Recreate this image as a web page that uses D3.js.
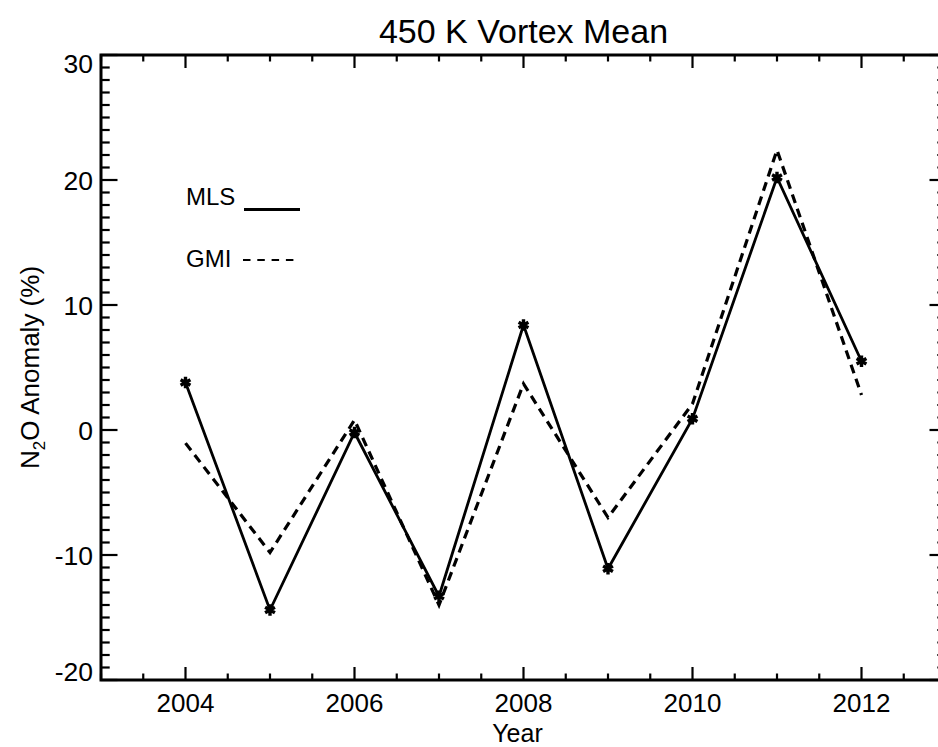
<meta charset="utf-8">
<style>
	body { margin: 0; background: #fff; }
	text { font-family: Arial, "Liberation Sans", Helvetica, sans-serif; fill: #000; }
</style>
<body>
<svg id="svg"></svg>
<script src="https://cdn.jsdelivr.net/npm/d3@7/dist/d3.min.js"></script>
<script>

// DATA
var years = [ 2004, 2005, 2006, 2007, 2008, 2009, 2010, 2011, 2012 ]
var mls = [ 3.8, -14.4, -0.2, -13.3, 8.4, -11.1, 0.9, 20.2, 5.5 ]
var gmi = [ -1.05, -9.8, 0.8, -14.0, 3.7, -7.0, 2.1, 22.4, 2.8 ]
var xDomain = [ 2003, 2013 ]
var yDomain = [ -20, 30 ]
var xTickLabels = [ 2004, 2006, 2008, 2010, 2012 ]
var yTickLabels = [ -20, -10, 0, 10, 20, 30 ]
var seriesNames = [ 'MLS', 'GMI' ]

// CANVAS
var width = 938
var height = 747

var svg = d3.select( '#svg' )
	.attr( 'width', width )
	.attr( 'height', height )

// plot box (right edge runs past the window, as in the original)
var pLeft = 101, pRight = 946, pTop = 55, pBottom = 680

var x = d3.scaleLinear().domain( xDomain ).range([ pLeft, pRight ])
var y = d3.scaleLinear().domain( yDomain ).range([ pBottom, pTop ])

// AXES (IDL style box: major + minor ticks on all four sides)
var xMinor = d3.range( xDomain[0], xDomain[1] + 0.01, 0.5 )
var yMinor = d3.range( yDomain[0], yDomain[1] + 0.01, 1 )

var axes = svg.append( 'g' )

function tickLines( vals, isMajor, side ){
	axes.append( 'g' ).selectAll( 'line' )
		.data( vals )
		.enter()
		.append( 'line' )
			.attr( 'stroke', '#000' )
			.attr( 'stroke-width', 2.2 )
			.each( function( v ){
				let len, el = d3.select( this )
				if( side == 'bottom' || side == 'top' ){
					len = isMajor( v ) ? 13 : 6.5
					let y0 = side == 'bottom' ? pBottom : pTop
					let dir = side == 'bottom' ? -1 : 1
					el.attr( 'x1', x( v )).attr( 'x2', x( v ))
						.attr( 'y1', y0 ).attr( 'y2', y0 + dir * len )
				} else {
					len = isMajor( v ) ? 16.5 : 8.7
					let x0 = side == 'left' ? pLeft : pRight
					let dir = side == 'left' ? 1 : -1
					el.attr( 'y1', y( v )).attr( 'y2', y( v ))
						.attr( 'x1', x0 ).attr( 'x2', x0 + dir * len )
				}
			})
}

var xMajor = v => xTickLabels.indexOf( v ) >= 0
var yMajor = v => yTickLabels.indexOf( v ) >= 0

tickLines( xMinor, xMajor, 'bottom' )
tickLines( xMinor, xMajor, 'top' )
tickLines( yMinor, yMajor, 'left' )
tickLines( yMinor, yMajor, 'right' )

axes.append( 'rect' )
	.attr( 'x', pLeft )
	.attr( 'y', pTop )
	.attr( 'width', pRight - pLeft )
	.attr( 'height', pBottom - pTop )
	.attr( 'fill', 'none' )
	.attr( 'stroke', '#000' )
	.attr( 'stroke-width', 3 )

// tick labels
axes.append( 'g' ).selectAll( 'text' )
	.data( xTickLabels )
	.enter()
	.append( 'text' )
		.attr( 'x', d => x( d ))
		.attr( 'y', 712 )
		.attr( 'text-anchor', 'middle' )
		.style( 'font-size', '26px' )
		.text( d => d )

// end labels get nudged inside the box, like IDL does
axes.append( 'g' ).selectAll( 'text' )
	.data( yTickLabels )
	.enter()
	.append( 'text' )
		.attr( 'x', 93 )
		.attr( 'y', d => Math.max( pTop + 8.5, Math.min( pBottom - 8.5, y( d ))) + 9.5 )
		.attr( 'text-anchor', 'end' )
		.style( 'font-size', '26.5px' )
		.text( d => d )

// TITLES
svg.append( 'text' )
	.attr( 'x', ( pLeft + pRight ) / 2 )
	.attr( 'y', 43 )
	.attr( 'text-anchor', 'middle' )
	.style( 'font-size', '34px' )
	.text( '450 K Vortex Mean' )

svg.append( 'text' )
	.attr( 'x', ( pLeft + pRight ) / 2 - 6 )
	.attr( 'y', 741.5 )
	.attr( 'text-anchor', 'middle' )
	.style( 'font-size', '25px' )
	.text( 'Year' )

var ylab = svg.append( 'text' )
	.attr( 'transform', 'translate(39,' + ( pTop + pBottom ) / 2 + ') rotate(-90)' )
	.attr( 'text-anchor', 'middle' )
	.style( 'font-size', '26px' )
ylab.append( 'tspan' ).text( 'N' )
ylab.append( 'tspan' ).attr( 'dy', 6 ).style( 'font-size', '17px' ).text( '2' )
ylab.append( 'tspan' ).attr( 'dy', -6 ).text( 'O Anomaly (%)' )

// LINES
var line = d3.line()
	.x( ( d, i ) => x( years[i] ))
	.y( d => y( d ))

svg.append( 'path' )
	.datum( gmi )
	.attr( 'd', line )
	.attr( 'fill', 'none' )
	.attr( 'stroke', '#000' )
	.attr( 'stroke-width', 3.2 )
	.attr( 'stroke-dasharray', '9,6' )

svg.append( 'path' )
	.datum( mls )
	.attr( 'd', line )
	.attr( 'fill', 'none' )
	.attr( 'stroke', '#000' )
	.attr( 'stroke-width', 2.8 )

// asterisk markers on MLS
svg.append( 'g' )
	.selectAll( 'path' )
	.data( mls )
	.enter()
	.append( 'path' )
		.attr( 'd', d3.symbol( d3.symbolAsterisk, 90 ))
		.attr( 'transform', ( d, i ) => 'translate(' + x( years[i] ) + ',' + y( d ) + ')' )
		.attr( 'fill', 'none' )
		.attr( 'stroke', '#000' )
		.attr( 'stroke-width', 3.4 )

// LEGEND
var legend = svg.append( 'g' )
var legendRows = [ { y: 205, dash: null }, { y: 266.5, dash: '7.5,6.8' } ]

legend.selectAll( 'text' )
	.data( seriesNames )
	.enter()
	.append( 'text' )
		.attr( 'x', 186 )
		.attr( 'y', ( d, i ) => legendRows[i].y )
		.style( 'font-size', '24px' )
		.text( d => d )

legend.append( 'line' )
	.attr( 'x1', 244 ).attr( 'x2', 300 )
	.attr( 'y1', 209.5 ).attr( 'y2', 209.5 )
	.attr( 'stroke', '#000' )
	.attr( 'stroke-width', 2.8 )

legend.append( 'line' )
	.attr( 'x1', 243 ).attr( 'x2', 296 )
	.attr( 'y1', 260 ).attr( 'y2', 260 )
	.attr( 'stroke', '#000' )
	.attr( 'stroke-width', 2.2 )
	.attr( 'stroke-dasharray', legendRows[1].dash )

</script>
</body>
